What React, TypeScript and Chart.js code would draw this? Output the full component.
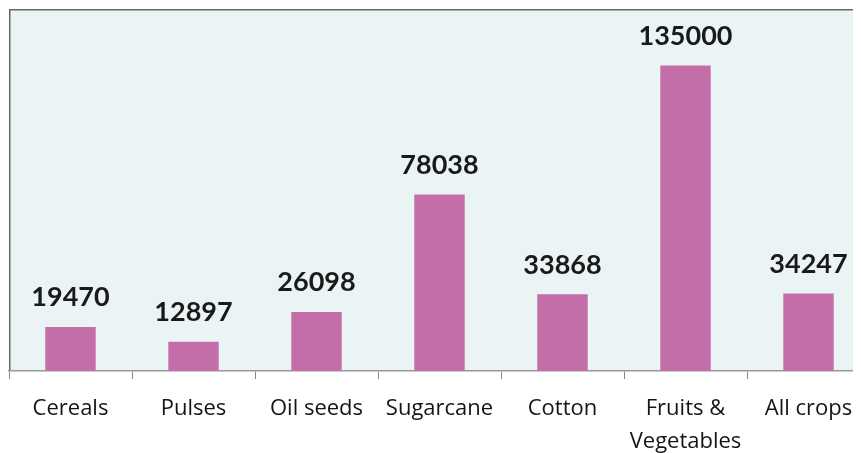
import React, { useEffect, useRef } from "react";
import { Chart, registerables } from "chart.js";

Chart.register(...registerables);

const categories: (string | string[])[] = [
  "Cereals",
  "Pulses",
  "Oil seeds",
  "Sugarcane",
  "Cotton",
  ["Fruits &", "Vegetables"],
  "All crops",
];
const values: number[] = [19470, 12897, 26098, 78038, 33868, 135000, 34247];
const yMax = 160000;

const FONT = "Lato, 'Open Sans', sans-serif";
const XFONT = "'Open Sans', Lato, sans-serif";

const areaPlugin = {
  id: "areaBg",
  beforeDraw(chart: any) {
    const { ctx, chartArea } = chart;
    if (!chartArea) return;
    ctx.save();
    ctx.fillStyle = "#eaf4f4";
    ctx.fillRect(chartArea.left, chartArea.top, chartArea.right - chartArea.left, chartArea.bottom - chartArea.top);
    ctx.strokeStyle = "#5f6b6b";
    ctx.lineWidth = 1.5;
    ctx.beginPath();
    ctx.moveTo(chartArea.left + 0.75, chartArea.bottom);
    ctx.lineTo(chartArea.left + 0.75, chartArea.top + 0.75);
    ctx.lineTo(chartArea.right, chartArea.top + 0.75);
    ctx.stroke();
    ctx.restore();
  },
};

const labelPlugin = {
  id: "valueLabels",
  afterDatasetsDraw(chart: any) {
    const { ctx } = chart;
    const meta = chart.getDatasetMeta(0);
    ctx.save();
    ctx.font = `bold 27px ${FONT}`;
    ctx.fillStyle = "#1a1a1a";
    ctx.textAlign = "center";
    ctx.textBaseline = "bottom";
    meta.data.forEach((bar: any, i: number) => {
      ctx.fillText(String(values[i]), bar.x, bar.y - 16);
    });
    ctx.restore();
  },
};

export default function App() {
  const ref = useRef<HTMLCanvasElement>(null);
  useEffect(() => {
    if (!ref.current) return;
    const chart = new Chart(ref.current, {
      type: "bar",
      data: {
        labels: categories,
        datasets: [
          {
            data: values,
            backgroundColor: "#c36ea8",
            borderWidth: 0,
            barPercentage: 0.41,
            categoryPercentage: 1,
          },
        ],
      },
      options: {
        responsive: false,
        animation: false,
        layout: { padding: { left: 1, top: 1, right: 1, bottom: 0 } },
        plugins: { legend: { display: false }, tooltip: { enabled: false } },
        scales: {
          x: {
            grid: {
              display: true,
              drawOnChartArea: false,
              drawTicks: true,
              tickLength: 8,
              color: "#8a8a8a",
              offset: true,
            },
            border: { display: true, color: "#9a9a9a", width: 1.5 },
            ticks: {
              color: "#151515",
              font: { family: XFONT, size: 22, lineHeight: 1.5 },
              padding: 13,
              maxRotation: 0,
              autoSkip: false,
            },
            afterFit(scale: any) {
              scale.height = 82;
            },
          },
          y: {
            display: false,
            min: 0,
            max: yMax,
          },
        },
      },
      plugins: [areaPlugin, labelPlugin],
    });
    return () => chart.destroy();
  }, []);
  return (
    <div style={{ width: 853, height: 445, overflow: "hidden" }}>
      <canvas ref={ref} width={863} height={445} style={{ display: "block" }} />
    </div>
  );
}
